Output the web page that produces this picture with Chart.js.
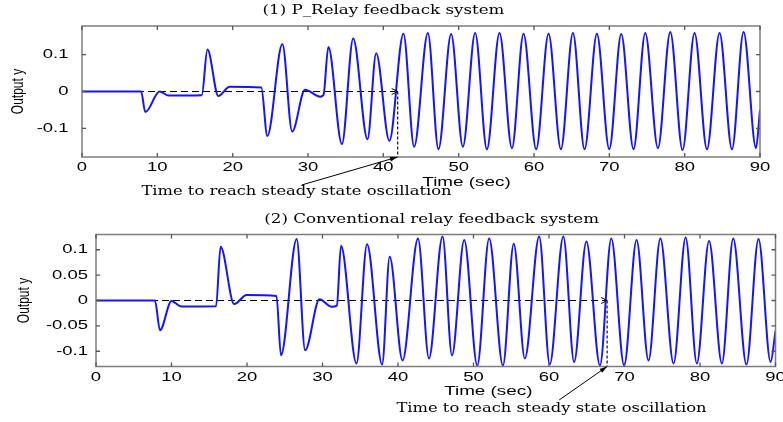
<!DOCTYPE html>
<html lang="en">
<head>
<meta charset="UTF-8">
<title>Relay feedback output</title>
<script src="https://cdn.jsdelivr.net/npm/chart.js"></script>
<style>
    body {
        margin: 0;
        background: #fff;
    }

    .panel {
        position: absolute;
        left: 0;
        width: 783px;
        height: 211px;
    }

    #panelP {
        top: 0;
    }

    #panelC {
        top: 211px;
    }
</style>
</head>
<body>
<div class="panel" id="panelP"><canvas id="chartP"></canvas></div>
<div class="panel" id="panelC"><canvas id="chartC"></canvas></div>
<script>
    // tick values
    const xTicks = [0, 10, 20, 30, 40, 50, 60, 70, 80, 90];
    const yTicksP = [-0.1, 0, 0.1];
    const yTicksC = [-0.1, -0.05, 0, 0.05, 0.1];

    // (1) P_Relay feedback: turning points of the output
    const timeP = [0, 7.85, 8.4, 10.3, 11.5, 15.9, 16.65, 18.1, 19.6, 23.8,
        24.6, 26.6, 27.9, 29.6, 31.6, 32.05, 32.7, 34.5, 36.0, 37.9,
        39.05, 40.8, 42.67, 44.09, 45.91, 47.32, 49.0, 50.56, 52.19, 53.75,
        55.42, 57.07, 58.61, 60.29, 61.93, 63.57, 65.17, 66.71, 68.35, 69.99,
        71.58, 73.21, 74.77, 76.45, 78.09, 79.72, 81.31, 82.96, 84.63, 86.28,
        87.82, 89.47, 90];
    const outputP = [0, 0, -0.056, 0.0, -0.011, -0.010, 0.114, -0.012, 0.013, 0.011,
        -0.121, 0.129, -0.109, 0.005, -0.014, -0.010, 0.121, -0.143, 0.144, -0.130,
        0.104, -0.134, 0.157, -0.150, 0.159, -0.157, 0.156, -0.150, 0.159, -0.157,
        0.159, -0.154, 0.157, -0.157, 0.157, -0.157, 0.159, -0.157, 0.157, -0.157,
        0.156, -0.157, 0.159, -0.154, 0.162, -0.159, 0.159, -0.157, 0.159, -0.157,
        0.162, -0.154, -0.05];

    // (2) conventional relay feedback
    const timeC = [0, 7.8, 8.48, 10.0, 11.3, 15.9, 16.5, 18.3, 19.95, 23.9,
        24.5, 26.58, 27.7, 29.6, 31.2, 31.9, 32.45, 34.5, 35.9, 37.9,
        38.9, 40.6, 42.65, 44.1, 45.9, 47.15, 48.77, 50.5, 52.07, 53.9,
        55.33, 56.8, 58.7, 60.1, 61.9, 63.33, 64.95, 66.75, 68.25, 69.95,
        71.6, 73.18, 74.75, 76.5, 78.1, 79.58, 81.2, 82.9, 84.4, 86.15,
        87.75, 89.35, 90];
    const outputC = [0, 0, -0.0585, -0.001, -0.012, -0.0115, 0.106, -0.007, 0.011, 0.009,
        -0.108, 0.121, -0.098, 0.0025, -0.0125, -0.010, 0.108, -0.124, 0.111, -0.126,
        0.086, -0.118, 0.122, -0.114, 0.126, -0.108, 0.119, -0.128, 0.122, -0.128,
        0.112, -0.114, 0.126, -0.126, 0.126, -0.121, 0.116, -0.128, 0.122, -0.128,
        0.119, -0.118, 0.122, -0.124, 0.124, -0.124, 0.117, -0.124, 0.122, -0.126,
        0.121, -0.121, -0.06];

    // time to reach steady state oscillation
    const steadyP = 41.9;
    const steadyC = 67.7;

    const SANS = '13px "Liberation Sans", Arial, sans-serif';
    const SERIF = '12px "DejaVu Serif", serif';
    const NOTE = 'Time to reach steady state oscillation';

    // draw text widened by sx (optionally turned to read bottom-up)
    function stretchText(ctx, text, x, y, font, sx, align, turned) {
        ctx.save();
        ctx.font = font;
        ctx.fillStyle = '#000';
        ctx.textAlign = align;
        ctx.textBaseline = 'middle';
        ctx.translate(x, y);
        ctx.scale(sx, 1);
        if (turned) ctx.rotate(-Math.PI / 2);
        ctx.fillText(text, 0, 0);
        ctx.restore();
    }

    // box, inward ticks, labels and the steady-state pointer
    const framePlugin = {
        id: 'frame',
        afterDraw(chart, args, o) {
            const { ctx, chartArea: a, scales: { x, y } } = chart;
            ctx.save();
            ctx.strokeStyle = '#7d7d7d';
            ctx.lineWidth = 1.5;
            ctx.strokeRect(a.left, a.top, a.right - a.left, a.bottom - a.top);

            ctx.lineWidth = 1.3;
            ctx.strokeStyle = '#555';
            ctx.beginPath();
            x.ticks.forEach(t => {
                const px = x.getPixelForValue(t.value);
                ctx.moveTo(px, a.top); ctx.lineTo(px, a.top + 4);
                ctx.moveTo(px, a.bottom); ctx.lineTo(px, a.bottom - 4);
            });
            y.ticks.forEach(t => {
                const py = y.getPixelForValue(t.value);
                ctx.moveTo(a.left, py); ctx.lineTo(a.left + 4, py);
                ctx.moveTo(a.right, py); ctx.lineTo(a.right - 4, py);
            });
            ctx.stroke();

            x.ticks.forEach(t => stretchText(ctx, String(t.value), x.getPixelForValue(t.value),
                a.bottom + 10.5, SANS, 1.42, 'center'));
            y.ticks.forEach(t => stretchText(ctx, String(t.value), a.left - o.yLabelGap,
                y.getPixelForValue(t.value), SANS, 1.42, 'right'));

            stretchText(ctx, 'Time (sec)', o.xTitleX, a.bottom + 25, SANS, 1.45, 'center');
            stretchText(ctx, 'Output y', o.yTitleX, (a.top + a.bottom) / 2,
                '12px "Liberation Sans", Arial, sans-serif', 1.3, 'center', true);
            stretchText(ctx, o.title, o.titleX, o.titleY, SERIF, 1.39, 'center');

            // arrowhead closing the dashed zero line
            const sx = x.getPixelForValue(o.steady);
            const sy = y.getPixelForValue(0);
            ctx.strokeStyle = '#000';
            ctx.lineWidth = 1;
            ctx.beginPath();
            ctx.moveTo(sx - 6, sy - 3); ctx.lineTo(sx, sy); ctx.lineTo(sx - 6, sy + 3);
            ctx.stroke();

            // pointer from the note up to the foot of the dashed drop
            const fy = a.bottom;
            const nx = sx + o.noteDx, ny = fy + o.noteDy;
            ctx.beginPath();
            ctx.moveTo(nx, ny); ctx.lineTo(sx, fy);
            ctx.stroke();
            const ang = Math.atan2(fy - ny, sx - nx);
            ctx.fillStyle = '#000';
            ctx.beginPath();
            ctx.moveTo(sx, fy);
            ctx.lineTo(sx - 8 * Math.cos(ang - 0.3), fy - 8 * Math.sin(ang - 0.3));
            ctx.lineTo(sx - 8 * Math.cos(ang + 0.3), fy - 8 * Math.sin(ang + 0.3));
            ctx.closePath();
            ctx.fill();
            stretchText(ctx, NOTE, o.noteX, o.noteY, SERIF, 1.36, 'center');
            ctx.restore();
        }
    };

    function buildChart(id, time, output, yLim, yTicks, steady, padding, yWidth, frame) {
        const points = time.map((t, i) => ({ x: t, y: output[i] }));
        return new Chart(document.getElementById(id), {
            type: 'line',
            data: {
                datasets: [
                    {
                        data: points,
                        borderColor: '#1414ff',
                        borderWidth: 2,
                        pointRadius: 0,
                        cubicInterpolationMode: 'monotone'
                    },
                    {
                        data: [{ x: 0, y: 0 }, { x: steady, y: 0 }],
                        borderColor: '#000',
                        borderWidth: 1,
                        borderDash: [7, 4],
                        pointRadius: 0
                    },
                    {
                        data: [{ x: steady, y: 0 }, { x: steady, y: -yLim }],
                        borderColor: '#222',
                        borderWidth: 1.3,
                        borderDash: [3, 2],
                        pointRadius: 0
                    }
                ]
            },
            options: {
                responsive: true,
                maintainAspectRatio: false,
                animation: false,
                events: [],
                layout: { padding: padding },
                plugins: {
                    legend: { display: false },
                    tooltip: { enabled: false },
                    frame: Object.assign({ steady: steady }, frame)
                },
                scales: {
                    x: {
                        type: 'linear',
                        min: 0,
                        max: 90,
                        afterBuildTicks: s => { s.ticks = xTicks.map(v => ({ value: v })); },
                        afterFit: s => { s.height = 30; },
                        ticks: { display: false },
                        grid: { display: false },
                        border: { display: false }
                    },
                    y: {
                        type: 'linear',
                        min: -yLim,
                        max: yLim,
                        afterBuildTicks: s => { s.ticks = yTicks.map(v => ({ value: v })); },
                        afterFit: s => { s.width = yWidth; },
                        ticks: { display: false },
                        grid: { display: false },
                        border: { display: false }
                    }
                }
            },
            plugins: [framePlugin]
        });
    }

    buildChart('chartP', timeP, outputP, 0.178, yTicksP, steadyP,
        { left: 0, top: 26, right: 23, bottom: 24 }, 82, {
            title: '(1) P_Relay feedback system', titleX: 383.5, titleY: 11,
            xTitleX: 466.5, yTitleX: 18.5, yLabelGap: 13.5,
            noteX: 296.5, noteY: 192, noteDx: -96, noteDy: 28
        });

    buildChart('chartC', timeC, outputC, 0.13, yTicksC, steadyC,
        { left: 0, top: 23.5, right: 7.5, bottom: 25.5 }, 96, {
            title: '(2) Conventional relay feedback system', titleX: 431.7, titleY: 9,
            xTitleX: 488.3, yTitleX: 25, yLabelGap: 8,
            noteX: 551.5, noteY: 198, noteDx: -48, noteDy: 33.5
        });
</script>
</body>
</html>
